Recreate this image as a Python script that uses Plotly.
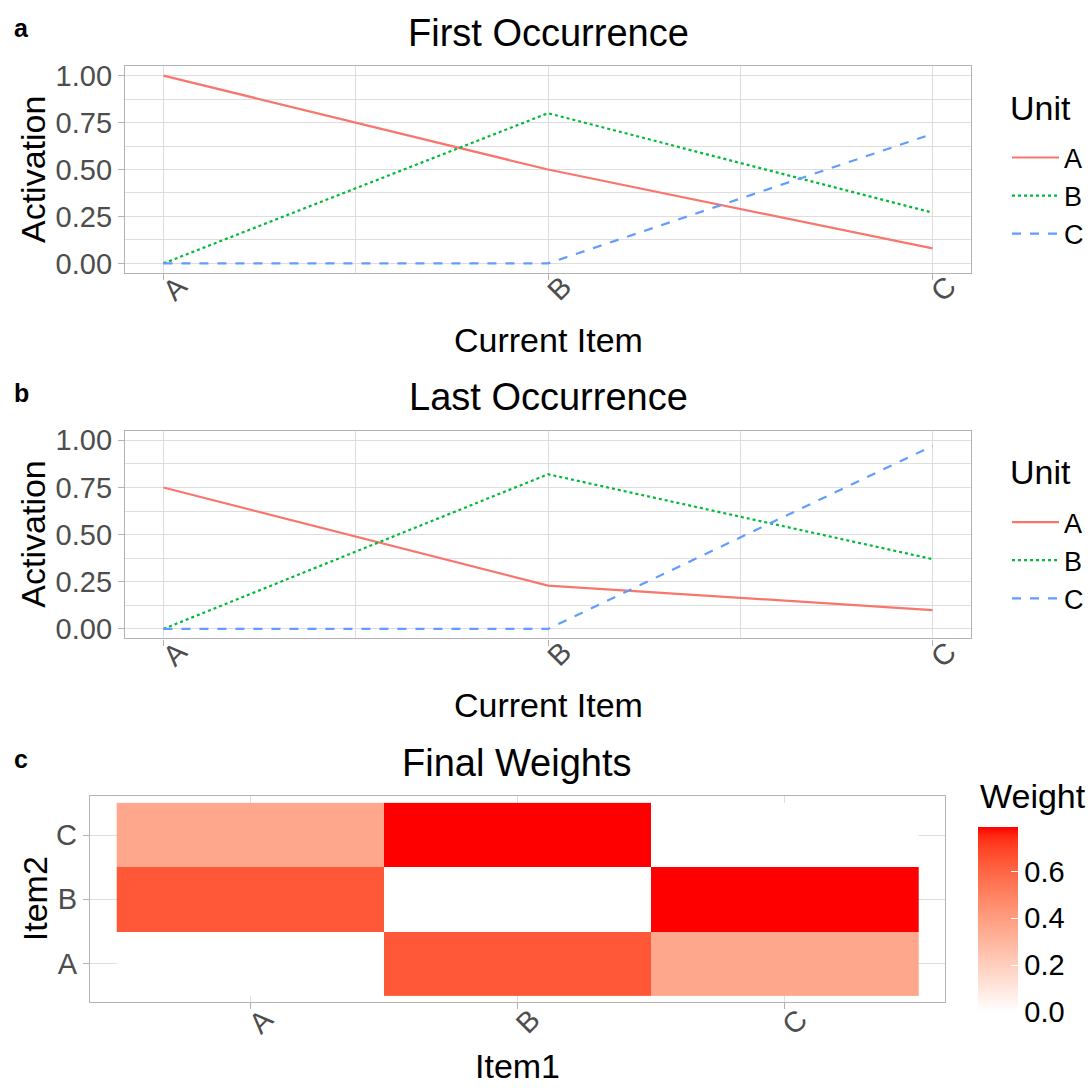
import plotly.graph_objects as go
import numpy as np

# ---------------- data ----------------
items = ["A", "B", "C"]
units = ["A", "B", "C"]

first_A = [1.00, 0.50, 0.08]
first_B = [0.00, 0.80, 0.27]
first_C = [0.00, 0.00, 0.69]

last_A = [0.75, 0.23, 0.10]
last_B = [0.00, 0.82, 0.37]
last_C = [0.00, 0.00, 0.97]

# weights: rows = Item2 (A,B,C), cols = Item1 (A,B,C)
weights = [
    [0.00, 0.64, 0.36],
    [0.64, 0.00, 0.79],
    [0.36, 0.79, 0.00],
]

y_ticks = [0, 0.25, 0.5, 0.75, 1.0]
y_ticklabels = ["0.00", "0.25", "0.50", "0.75", "1.00"]
cb_ticks = [0, 0.2, 0.4, 0.6]
cb_ticklabels = ["0.0", "0.2", "0.4", "0.6"]

# ---------------- styling ----------------
W, H = 1092, 1091
FONT = "Liberation Sans, Arial, Helvetica, sans-serif"
COLORS = ["#F8766D", "#00BA38", "#619CFF"]
DASHES = ["solid", "dot", "dash"]
GRID = "#DEDEDE"
BORDER = "#B3B3B3"
TICKCOL = "#4D4D4D"


def px_x(p):
    return p / W


def px_y(p):
    return 1 - p / H


# Lab interpolation white -> red (like ggplot scale_fill_gradient)
def srgb_to_lin(c):
    c = c / 255.0
    return np.where(c <= 0.04045, c / 12.92, ((c + 0.055) / 1.055) ** 2.4)


def lin_to_srgb(c):
    c = np.clip(c, 0, 1)
    v = np.where(c <= 0.0031308, 12.92 * c, 1.055 * c ** (1 / 2.4) - 0.055)
    return np.clip(np.round(v * 255), 0, 255)


M = np.array([[0.4124, 0.3576, 0.1805], [0.2126, 0.7152, 0.0722], [0.0193, 0.1192, 0.9505]])
Minv = np.linalg.inv(M)
WP = np.array([0.95047, 1.0, 1.08883])


def f(t):
    d = 6 / 29
    return np.where(t > d ** 3, np.cbrt(t), t / (3 * d * d) + 4 / 29)


def finv(t):
    d = 6 / 29
    return np.where(t > d, t ** 3, 3 * d * d * (t - 4 / 29))


def rgb_to_lab(rgb):
    xyz = M @ srgb_to_lin(np.array(rgb, float)) / WP
    fx, fy, fz = f(xyz)
    return np.array([116 * fy - 16, 500 * (fx - fy), 200 * (fy - fz)])


def lab_to_rgb(lab):
    L, a, b = lab
    fy = (L + 16) / 116
    fx = fy + a / 500
    fz = fy - b / 200
    xyz = np.array([finv(fx), finv(fy), finv(fz)]) * WP
    return lin_to_srgb(Minv @ xyz)


lab_lo = rgb_to_lab([255, 255, 255])
lab_hi = rgb_to_lab([255, 0, 0])
colorscale = []
for t in np.linspace(0, 1, 21):
    r, g, b = lab_to_rgb(lab_lo + (lab_hi - lab_lo) * t)
    colorscale.append([float(t), f"rgb({int(r)},{int(g)},{int(b)})"])

fig = go.Figure()

# ---------------- panels a & b ----------------
panels = [
    ("x", "y", [first_A, first_B, first_C], "legend", (125, 971), (61, 270)),
    ("x2", "y2", [last_A, last_B, last_C], "legend2", (125, 971), (430, 640)),
]
xpos = list(range(len(items)))
for xa, ya, series, leg, _, _ in panels:
    for u, vals, col, dash in zip(units, series, COLORS, DASHES):
        fig.add_trace(go.Scatter(
            x=xpos, y=vals, mode="lines", name=u, xaxis=xa, yaxis=ya, legend=leg,
            line=dict(color=col, width=2.2, dash=dash), hoverinfo="skip",
        ))

# ---------------- panel c heatmap ----------------
zmax = max(max(r) for r in weights)
fig.add_trace(go.Heatmap(
    x=xpos, y=xpos, z=weights, xaxis="x3", yaxis="y3",
    colorscale=colorscale, zmin=0, zmax=zmax, showscale=True,
    colorbar=dict(
        x=px_x(978), xanchor="left", y=px_y(1018), yanchor="bottom",
        thickness=40, thicknessmode="pixels", len=185, lenmode="pixels",
        outlinewidth=0, tickvals=cb_ticks, ticktext=cb_ticklabels,
        ticks="inside", tickcolor="white", ticklen=7, tickwidth=1,
        tickfont=dict(family=FONT, size=29, color="black"),
        ypad=0, xpad=0,
    ),
    hoverinfo="skip",
))

axis_common = dict(
    showline=True, linecolor=BORDER, linewidth=1.3, mirror=True,
    ticks="outside", ticklen=6, tickcolor=BORDER, tickwidth=1.3,
    gridcolor=GRID, gridwidth=1.3, zeroline=False,
    tickfont=dict(family=FONT, size=29, color=TICKCOL),
)

layout_axes = {}
for i, (xa, ya, _, _, (x0, x1), (y0, y1)) in enumerate(panels):
    xn = "xaxis" if i == 0 else "xaxis2"
    yn = "yaxis" if i == 0 else "yaxis2"
    layout_axes[xn] = dict(
        axis_common, domain=[px_x(x0), px_x(x1)], anchor=ya,
        range=[-0.1, 2.1], tickvals=xpos, ticktext=items, tickangle=-45,
        ticklabelshift=15, ticklabelstandoff=-22,
        minor=dict(tickvals=[0.5, 1.5], showgrid=True, gridcolor=GRID, gridwidth=0.7, ticks=""),
    )
    layout_axes[yn] = dict(
        axis_common, domain=[px_y(y1), px_y(y0)], anchor=xa,
        range=[-0.05, 1.05], tickvals=y_ticks, ticktext=y_ticklabels,
        minor=dict(tickvals=[0.125, 0.375, 0.625, 0.875], showgrid=True, gridcolor=GRID, gridwidth=0.7, ticks=""),
    )

layout_axes["xaxis3"] = dict(
    axis_common, domain=[px_x(90), px_x(945)], anchor="y3",
    range=[-0.6, 2.6], tickvals=xpos, ticktext=items, tickangle=-45,
    ticklabelshift=14, ticklabelstandoff=-18,
)
layout_axes["yaxis3"] = dict(
    axis_common, domain=[px_y(1008), px_y(800)], anchor="x3",
    range=[-0.6, 2.6], tickvals=xpos, ticktext=items,
)

legend_common = dict(
    xanchor="left", yanchor="top", bgcolor="rgba(0,0,0,0)",
    font=dict(family=FONT, size=27, color="black"),
    itemwidth=47, tracegroupgap=0,
)

annotations = []


def ann(text, x, y, size, bold=False, angle=0, xanchor="center"):
    annotations.append(dict(
        text=f"<b>{text}</b>" if bold else text, x=px_x(x), y=px_y(y),
        xref="paper", yref="paper", showarrow=False, textangle=angle,
        xanchor=xanchor, yanchor="middle",
        font=dict(family=FONT, size=size, color="black"),
    ))


ann("First Occurrence", 548, 27, 38)
ann("Last Occurrence", 548, 396, 38)
ann("Final Weights", 517, 766, 38)
ann("a", 12, 22, 25, bold=True, xanchor="left")
ann("b", 12, 392, 25, bold=True, xanchor="left")
ann("c", 12, 762, 25, bold=True, xanchor="left")
ann("Current Item", 548, 338, 34)
ann("Current Item", 548, 707, 34)
ann("Item1", 517, 1073, 34)
ann("Activation", 33, 166, 34, angle=-90)
ann("Activation", 33, 535, 34, angle=-90)
ann("Item2", 35, 904, 34, angle=-90)
# legend / colorbar titles
ann("Unit", 1008, 103, 34, xanchor="left")
ann("Unit", 1008, 472, 34, xanchor="left")
ann("Weight", 978, 800, 34, xanchor="left")

fig.update_layout(
    width=W, height=H, margin=dict(l=0, r=0, t=0, b=0),
    paper_bgcolor="white", plot_bgcolor="white",
    font=dict(family=FONT),
    showlegend=True,
    legend=dict(legend_common, x=px_x(1007), y=px_y(129)),
    legend2=dict(legend_common, x=px_x(1007), y=px_y(498)),
    annotations=annotations,
    **layout_axes,
)

fig.write_html(
    "out.html",
    config={"displayModeBar": False},
    post_script="document.body.style.margin='0';document.body.style.overflow='hidden';",
)
